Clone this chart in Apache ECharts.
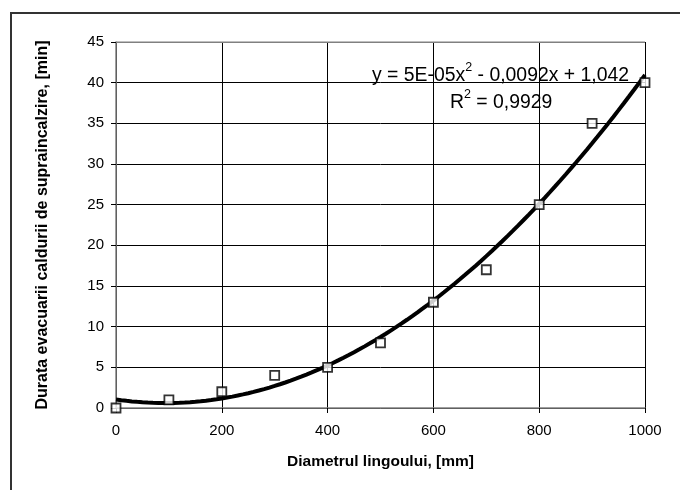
<!DOCTYPE html>
<html>
<head>
<meta charset="utf-8">
<script src="https://cdn.jsdelivr.net/npm/echarts@6/dist/echarts.min.js"></script>
<style>html,body{margin:0;padding:0;background:#fff;}#c{width:680px;height:490px;}</style>
</head>
<body>
<div id="c"></div>
<script>
var diameters = [0, 100, 200, 300, 400, 500, 600, 700, 800, 900, 1000];
var durations = [0, 1, 2, 4, 5, 8, 13, 17, 25, 35, 40];
var xTicks = [0, 200, 400, 600, 800, 1000];
var yTicks = [0, 5, 10, 15, 20, 25, 30, 35, 40, 45];
var equationText = 'y = 5E-05x';
var equationRest = ' - 0,0092x + 1,042';
var r2Text = ' = 0,9929';

// least-squares quadratic trendline computed from the data
function quadFit(xs, ys) {
  var n = xs.length, s = [0,0,0,0,0], t = [0,0,0];
  for (var i = 0; i < n; i++) {
    var x = xs[i], y = ys[i];
    for (var k = 0; k < 5; k++) s[k] += Math.pow(x, k);
    for (var k2 = 0; k2 < 3; k2++) t[k2] += Math.pow(x, k2) * y;
  }
  var M = [[s[0], s[1], s[2], t[0]], [s[1], s[2], s[3], t[1]], [s[2], s[3], s[4], t[2]]];
  for (var c = 0; c < 3; c++) {
    for (var r = c + 1; r < 3; r++) {
      var f = M[r][c] / M[c][c];
      for (var j = c; j < 4; j++) M[r][j] -= f * M[c][j];
    }
  }
  var sol = [0,0,0];
  for (var r3 = 2; r3 >= 0; r3--) {
    var v = M[r3][3];
    for (var j2 = r3 + 1; j2 < 3; j2++) v -= M[r3][j2] * sol[j2];
    sol[r3] = v / M[r3][r3];
  }
  return sol; // c0, c1, c2
}
var coef = quadFit(diameters, durations);
var trend = [];
for (var x = 0; x <= 1000; x += 10) {
  trend.push([x, coef[0] + coef[1] * x + coef[2] * x * x]);
}
var points = diameters.map(function (d, i) { return [d, durations[i]]; });

var chart = echarts.init(document.getElementById('c'));
var font = 'Arial, "Liberation Sans", sans-serif';
var richEq = {
  a: { fontFamily: font, fontSize: 19.4, fill: '#000', verticalAlign: 'bottom', lineHeight: 24 },
  s: { fontFamily: font, fontSize: 12.5, fill: '#000', verticalAlign: 'top', lineHeight: 24, padding: [0, 0, 9, 0] }
};
chart.setOption({
  animation: false,
  grid: { left: 116, right: 35, top: 42, bottom: 82 },
  xAxis: {
    type: 'value', min: 0, max: 1000, interval: 200,
    name: 'Diametrul lingoului, [mm]', nameLocation: 'middle', nameGap: 46,
    nameTextStyle: { fontFamily: font, fontSize: 15.5, fontWeight: 'bold', color: '#000' },
    axisLine: { show: true, lineStyle: { color: '#808080', width: 1.5 } },
    axisTick: { show: true, length: 5, lineStyle: { color: '#000' } },
    axisLabel: { fontFamily: font, fontSize: 15, color: '#000', margin: 15, formatter: function (v) { return String(v); } },
    splitLine: { show: true, lineStyle: { color: '#000', width: 1 } }
  },
  yAxis: {
    type: 'value', min: 0, max: 45, interval: 5,
    name: 'Durata evacuarii caldurii de supraincalzire, [min]', nameLocation: 'middle', nameGap: 65,
    nameTextStyle: { fontFamily: font, fontSize: 16, fontWeight: 'bold', color: '#000' },
    axisLine: { show: true, lineStyle: { color: '#808080', width: 1.5 } },
    axisTick: { show: true, length: 5, lineStyle: { color: '#000' } },
    axisLabel: { fontFamily: font, fontSize: 15, color: '#000', margin: 12 },
    splitLine: { show: true, lineStyle: { color: '#000', width: 1 } }
  },
  series: [
    {
      type: 'line', data: trend, showSymbol: false, symbol: 'none', smooth: false,
      lineStyle: { color: '#000', width: 4 }, z: 3, silent: true
    },
    {
      type: 'scatter', data: points, symbol: 'rect', symbolSize: 9,
      itemStyle: { color: '#fff', borderColor: '#000', borderWidth: 1.8 }, z: 4
    }
  ],
  graphic: [
    { type: 'rect', shape: { x: 11, y: 13, width: 700, height: 500 }, style: { fill: null, stroke: '#333', lineWidth: 2 }, z: 0, silent: true },
    { type: 'rect', shape: { x: 116, y: 41.5, width: 529, height: 1.5 }, style: { fill: '#808080' }, z: 10, silent: true },
    {
      type: 'text', left: 372, top: 61, z: 20,
      style: { text: '{a|' + equationText + '}{s|2}{a|' + equationRest + '}', rich: richEq }
    },
    {
      type: 'text', left: 450, top: 88, z: 20,
      style: { text: '{a|R}{s|2}{a|' + r2Text + '}', rich: richEq }
    }
  ]
});
</script>
</body>
</html>
